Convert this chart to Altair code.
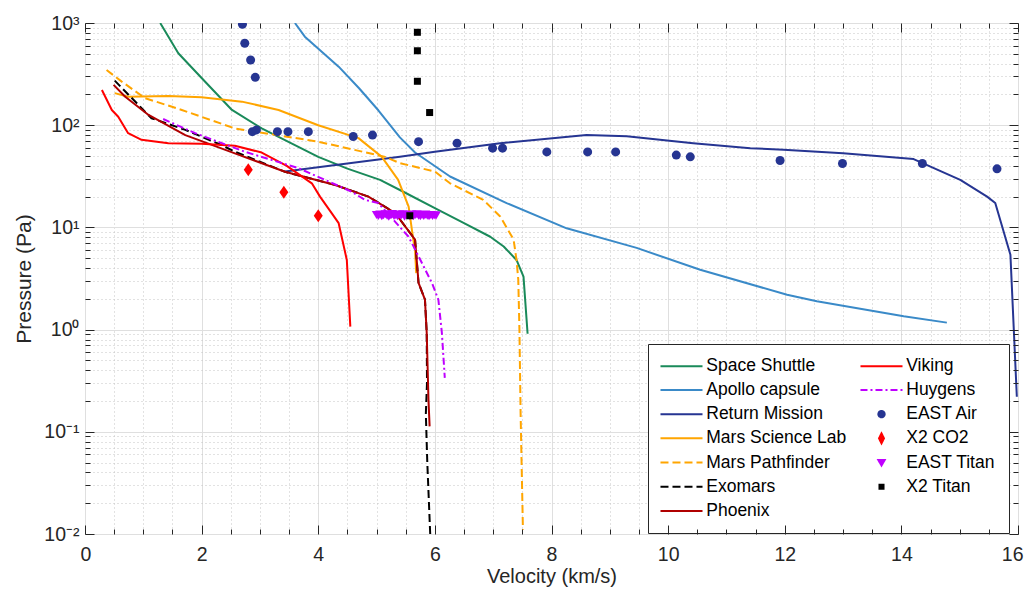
import altair as alt
import pandas as pd

FONT = "Liberation Sans"
AXC = "#262626"
W, H = 933, 511

# ---------------- data ----------------
SS_V = [1.29, 1.60, 2.00, 2.52, 3.03, 4.00, 4.50, 5.06, 5.50, 6.00, 6.50, 6.95, 7.18, 7.40, 7.52, 7.59]
SS_P = [1000, 506, 290, 141, 93, 49, 37.6, 29.2, 21.7, 15.4, 11, 8.1, 6.5, 4.8, 3.3, 0.91]

AP_V = [3.60, 3.77, 4.35, 4.70, 5.03, 5.40, 5.66, 6.26, 7.23, 8.26, 9.46, 10.55, 12.04, 12.55, 14.04, 14.78]
AP_P = [1000, 735, 374, 230, 140, 76, 54, 31.5, 17.3, 9.8, 6.3, 3.85, 2.19, 1.89, 1.35, 1.17]

RM_V = [3.43, 5.40, 6.00, 7.12, 8.60, 9.29, 10.43, 11.41, 11.98, 13.00, 14.21, 15.01, 15.47, 15.61, 15.87, 15.98]
RM_P = [35.2, 49, 55, 66.7, 80, 78, 66.7, 59.6, 57.4, 53.2, 46.6, 29.2, 20, 17.3, 5.4, 0.22]

MSL_V = [0.51, 0.74, 1.43, 2.00, 2.69, 3.32, 4.00, 4.69, 5.09, 5.37, 5.55, 5.63, 5.66, 5.68]
MSL_P = [206, 190, 193, 188, 170, 141, 100, 74.7, 49, 29.2, 16, 7.6, 6.0, 3.57]

MPF_V = [0.37, 0.63, 1.03, 1.66, 2.57, 4.00, 5.15, 5.40, 6.00, 6.26, 6.83, 7.12, 7.35, 7.40, 7.43, 7.45, 7.47, 7.51]
MPF_P = [347, 267, 184, 141, 93, 69, 49, 42.5, 35.2, 27, 18.6, 12.8, 7.6, 4.8, 3.1, 1.0, 0.153, 0.011]

EXO_V = [0.51, 1.14, 1.72, 2.34, 2.57, 3.43, 4.29, 4.86, 5.32, 5.66, 5.72, 5.83, 5.86, 5.865, 5.845, 5.87, 5.92]
EXO_P = [273, 117, 90, 64, 55, 35, 26, 20, 13.8, 7.6, 2.86, 1.96, 0.93, 0.3, 0.15, 0.05, 0.01]

PHX_V = [0.49, 0.69, 1.09, 1.72, 2.57, 3.43, 4.29, 4.86, 5.32, 5.66, 5.72, 5.83, 5.86, 5.89, 5.91]
PHX_P = [248, 190, 126, 80, 53, 35, 26, 20, 13.8, 7.6, 2.86, 1.96, 0.93, 0.207, 0.113]

VIK_V = [0.29, 0.46, 0.57, 0.74, 0.97, 1.43, 2.00, 2.57, 3.03, 3.46, 3.89, 4.03, 4.23, 4.35, 4.49, 4.55]
VIK_P = [221, 141, 121, 83.6, 72, 66.7, 65.7, 63, 54, 40, 27, 20, 13.8, 11, 4.8, 1.07]

HUY_V = [1.34, 1.89, 2.74, 3.66, 4.57, 4.80, 5.03, 5.55, 5.95, 6.06, 6.12, 6.17]
HUY_P = [115, 83.6, 55, 38, 22.4, 18.6, 17.3, 8.1, 2.86, 1.96, 0.93, 0.337]

EAIR_V = [2.70, 2.74, 2.84, 2.92, 2.87, 2.94, 3.30, 3.48, 3.83, 4.60, 4.93, 5.72, 6.38, 6.99,
          7.16, 7.92, 8.62, 9.10, 10.14, 10.38, 11.92, 12.99, 14.36, 15.64]
EAIR_P = [971, 634, 435, 294, 86.5, 90, 86.5, 86.5, 86.5, 77.5, 80, 69, 66.7, 59.6,
          59.6, 54.8, 54.8, 54.8, 51, 49, 45.1, 42.2, 42.2, 37.4]

CO2_V = [2.80, 3.41, 4.00]
CO2_P = [36.6, 22.1, 13.0]

ETI_V = [5.00, 5.03, 5.06, 5.09, 5.12, 5.15, 5.18, 5.21, 5.24, 5.27, 5.30, 5.33, 5.36, 5.39,
         5.42, 5.45, 5.48, 5.51, 5.54, 5.57, 5.60, 5.63, 5.66, 5.69, 5.72, 5.75, 5.78, 5.81,
         5.84, 5.87, 5.90, 5.93, 5.96, 5.99, 6.02]
ETI_P = [13.3, 13.0, 13.4, 12.9, 13.2, 13.5, 13.1, 12.8, 13.3, 13.6, 13.0, 13.2, 12.9, 13.4,
         13.1, 13.5, 12.8, 13.2, 13.3, 13.0, 13.4, 12.9, 13.2, 13.5, 13.1, 12.9, 13.3, 13.0,
         13.4, 13.1, 12.9, 13.3, 13.0, 13.2, 13.1]

X2T_V = [5.70, 5.70, 5.70, 5.91, 5.57]
X2T_P = [811, 535, 269, 133, 13.0]

# ---------------- axis tick values ----------------
X_MAJOR = [0, 2, 4, 6, 8, 10, 12, 14, 16]
X_MINOR = [0.5, 1, 1.5, 2.5, 3, 3.5, 4.5, 5, 5.5, 6.5, 7, 7.5, 8.5, 9, 9.5,
           10.5, 11, 11.5, 12.5, 13, 13.5, 14.5, 15, 15.5]
Y_MAJOR = [0.01, 0.1, 1, 10, 100, 1000]
Y_MINOR = [m * 10.0 ** k for k in range(-2, 3) for m in range(2, 10)]

# ---------------- legend definitions ----------------
LINE_SYM = "M-4.67,0H4.67"
CIRC_SYM = "M-0.7,0A0.7,0.7 0 1,0 0.7,0A0.7,0.7 0 1,0 -0.7,0Z"
DIAM_SYM = "M0,-1.1L0.55,0L0,1.1L-0.55,0Z"
TRI_SYM = "M-0.7,-0.55L0.7,-0.55L0,0.65Z"
SQR_SYM = "M-0.45,-0.45H0.45V0.45H-0.45Z"

LEG_ORDER = ["Space Shuttle", "Apollo capsule", "Return Mission", "Mars Science Lab",
             "Mars Pathfinder", "Exomars", "Phoenix", "Viking", "Huygens", "EAST Air",
             "X2 CO2", "EAST Titan", "X2 Titan"]
LEG_COLOR = ["#1a8a5a", "#3a8ac8", "#263592", "#ffa500", "#ffa500", "#000000", "#b00000",
             "#ff0000", "#bf00ff", "#263592", "#ff0000", "#bf00ff", "#000000"]
LEG_SHAPE = [LINE_SYM, LINE_SYM, LINE_SYM, LINE_SYM, LINE_SYM, LINE_SYM, LINE_SYM,
             LINE_SYM, LINE_SYM, CIRC_SYM, DIAM_SYM, TRI_SYM, SQR_SYM]
LEG_DASH = [[1, 0], [1, 0], [1, 0], [1, 0], [8, 4], [8, 4], [1, 0],
            [1, 0], [7, 3, 2, 3], [1, 0], [1, 0], [1, 0], [1, 0]]

xs = alt.Scale(domain=[0, 16], nice=False, zero=False)
ys = alt.Scale(type="log", domain=[0.01, 1000], nice=False)

dummy = pd.DataFrame({"v": [1.0], "p": [1.0]})


def line_layer(v, p, color, dash=None):
    df = pd.DataFrame({"v": v, "p": p, "i": list(range(len(v)))})
    kw = dict(color=color, strokeWidth=2, clip=True, strokeJoin="round")
    if dash:
        kw["strokeDash"] = dash
    return alt.Chart(df).mark_line(**kw).encode(
        x=alt.X("v:Q", scale=xs, axis=None),
        y=alt.Y("p:Q", scale=ys, axis=None),
        order=alt.Order("i:Q"),
    )


def point_layer(v, p, color, shape, size):
    df = pd.DataFrame({"v": v, "p": p})
    return alt.Chart(df).mark_point(filled=True, shape=shape, size=size, color=color,
                                    opacity=1, strokeWidth=0, clip=True).encode(
        x=alt.X("v:Q", scale=xs, axis=None),
        y=alt.Y("p:Q", scale=ys, axis=None),
    )


def xaxis(axis):
    return alt.Chart(dummy).mark_point().encode(
        x=alt.X("v:Q", scale=xs, axis=axis)).transform_filter("false")


def yaxis(axis):
    return alt.Chart(dummy).mark_point().encode(
        y=alt.Y("p:Q", scale=ys, axis=axis)).transform_filter("false")


tick_common = dict(domain=False, labels=False, grid=False, title=None, ticks=True,
                   tickColor=AXC, tickWidth=1, zindex=1)
grid_minor = dict(domain=False, labels=False, ticks=False, title=None, grid=True,
                  gridDash=[1, 3], gridColor="#c4c4c4", gridWidth=1, zindex=0)

e = "round(log(datum.value)/LN10)"
YLAB = ("'10' + (" + e + "==3?'³':" + e + "==2?'²':" + e + "==1?'¹':" + e +
        "==0?'⁰':" + e + "==-1?'⁻¹':'⁻²')")

axis_layers = [
    xaxis(alt.Axis(orient="bottom", values=X_MAJOR, domain=False, ticks=False, tickSize=0,
                   grid=True, gridColor="#dfdfdf", gridWidth=1, labels=True, labelFont=FONT,
                   labelFontSize=19.5, labelColor=AXC, labelPadding=11, labelFlush=True,
                   labelFlushOffset=5, labelOverlap=False, format="d",
                   title="Velocity (km/s)", titleFont=FONT,
                   titleFontSize=20, titleFontWeight="normal", titleColor=AXC,
                   titlePadding=3, zindex=0)),
    xaxis(alt.Axis(orient="top", values=X_MINOR, **grid_minor)),
    xaxis(alt.Axis(orient="top", offset=-H, values=X_MAJOR, tickSize=9, **tick_common)),
    xaxis(alt.Axis(orient="top", offset=-H, values=X_MINOR, tickSize=5, **tick_common)),
    xaxis(alt.Axis(orient="bottom", offset=-H, values=X_MAJOR, tickSize=9, **tick_common)),
    xaxis(alt.Axis(orient="bottom", offset=-H, values=X_MINOR, tickSize=5, **tick_common)),
    yaxis(alt.Axis(orient="left", values=Y_MAJOR, domain=False, ticks=False, tickSize=0,
                   grid=True, gridColor="#dfdfdf", gridWidth=1, labels=True, labelFont=FONT,
                   labelFontSize=19.5, labelColor=AXC, labelPadding=6, labelFlush=False,
                   labelOverlap=False, labelExpr=YLAB, title="Pressure (Pa)", titleFont=FONT,
                   titleFontSize=21, titleFontWeight="normal", titleColor=AXC,
                   titlePadding=9, zindex=0)),
    yaxis(alt.Axis(orient="right", values=Y_MINOR, **grid_minor)),
    yaxis(alt.Axis(orient="right", offset=-W, values=Y_MAJOR, tickSize=9, **tick_common)),
    yaxis(alt.Axis(orient="right", offset=-W, values=Y_MINOR, tickSize=5, **tick_common)),
    yaxis(alt.Axis(orient="left", offset=-W, values=Y_MAJOR, tickSize=9, **tick_common)),
    yaxis(alt.Axis(orient="left", offset=-W, values=Y_MINOR, tickSize=5, **tick_common)),
]

data_layers = [
    line_layer(SS_V, SS_P, "#1a8a5a"),
    line_layer(AP_V, AP_P, "#3a8ac8"),
    line_layer(RM_V, RM_P, "#263592"),
    line_layer(MSL_V, MSL_P, "#ffa500"),
    line_layer(MPF_V, MPF_P, "#ffa500", [8, 4]),
    line_layer(EXO_V, EXO_P, "#000000", [8, 4]),
    line_layer(PHX_V, PHX_P, "#b00000"),
    line_layer(VIK_V, VIK_P, "#ff0000"),
    line_layer(HUY_V, HUY_P, "#bf00ff", [7, 3, 2, 3]),
    point_layer(EAIR_V, EAIR_P, "#263592", "circle", 81),
    point_layer(CO2_V, CO2_P, "#ff0000", "M0,-1.3L0.9,0L0,1.3L-0.9,0Z", 100),
    point_layer(ETI_V, ETI_P, "#bf00ff", "M-1,-0.8L1,-0.8L0,0.9Z", 90),
    point_layer(X2T_V, X2T_P, "#000000", "square", 49),
]

leg = alt.Legend(orient="none", legendX=563, legendY=321, columns=2, title=None,
                 direction="vertical", padding=13, symbolSize=81, symbolOffset=11.75,
                 labelOffset=16, labelFont=FONT, labelFontSize=17.5, labelColor="#000000",
                 rowPadding=5.2, columnPadding=9, strokeColor=AXC, fillColor="white",
                 symbolStrokeWidth=2, labelLimit=400)

legend_df = pd.DataFrame({"series": LEG_ORDER})
legend_layer = alt.Chart(legend_df).mark_point(filled=True, opacity=1, strokeWidth=2).encode(
    color=alt.Color("series:N", scale=alt.Scale(domain=LEG_ORDER, range=LEG_COLOR), legend=leg),
    stroke=alt.Stroke("series:N", scale=alt.Scale(domain=LEG_ORDER, range=LEG_COLOR), legend=leg),
    shape=alt.Shape("series:N", scale=alt.Scale(domain=LEG_ORDER, range=LEG_SHAPE), legend=leg),
    strokeDash=alt.StrokeDash("series:N", scale=alt.Scale(domain=LEG_ORDER, range=LEG_DASH),
                              legend=leg),
).transform_filter("false")

chart = alt.layer(*axis_layers, *data_layers, legend_layer).resolve_axis(
    x="independent", y="independent"
).properties(
    width=W, height=H,
    padding={"left": 77, "top": 15, "right": 6, "bottom": 54},
    autosize=alt.AutoSizeParams(type="none"),
    background="white",
).configure_view(stroke=AXC, strokeWidth=1)

chart.save("out.html", embed_options={"renderer": "svg", "actions": False})
